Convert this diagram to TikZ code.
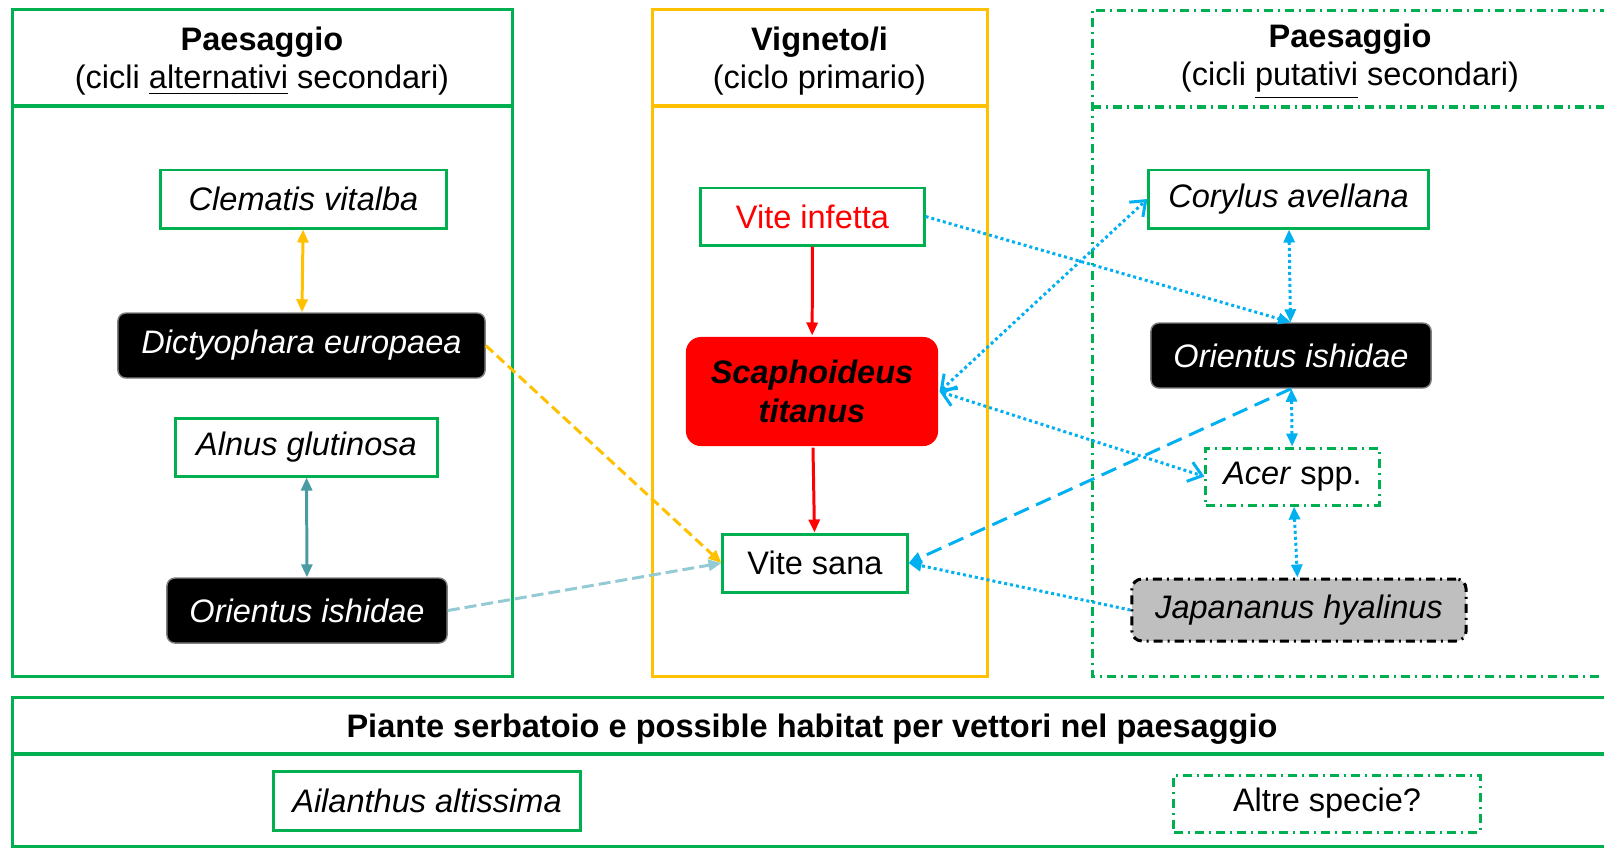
\documentclass[tikz,border=0pt]{standalone}
\usepackage{fontspec}
\setmainfont{Liberation Sans}
\usetikzlibrary{arrows.meta}
\definecolor{verde}{HTML}{00B050}
\definecolor{giallo}{HTML}{FFC000}
\definecolor{rosso}{HTML}{FF0000}
\definecolor{azzurro}{HTML}{00B0F0}
\definecolor{ottanio}{HTML}{4A9BA3}
\definecolor{acqua}{HTML}{93CAD4}
\definecolor{grigio}{HTML}{BFBFBF}
\newcommand{\testo}{\fontsize{9.25}{11}\selectfont}
\tikzset{
  punta/.tip={Triangle[length=0.13cm,width=0.11cm]},
  barba/.tip={Straight Barb[length=0.13cm,width=0.2cm,line width=0.85pt]},
  titolo/.style={align=center, font=\fontsize{9.25}{10.8}\selectfont},
  pianta/.style={draw=verde, line width=0.85pt, fill=white, minimum height=0.58cm, inner sep=0pt, font=\testo\itshape},
  insetto/.style={draw=gray, line width=0.4pt, fill=black, text=white, rounded corners=0.08cm, minimum height=0.65cm, inner sep=0pt, font=\testo\itshape},
  trattopunto/.style={dash pattern=on 0.09cm off 0.05cm on 0.02cm off 0.05cm},
  puntini/.style={azzurro, line width=0.85pt, dash pattern=on 0.03cm off 0.03cm},
}
\begin{document}
\begin{tikzpicture}[x=0.01cm, y=-0.01cm, font=\testo, line width=0.85pt]
  \clip (0,0) rectangle (1604,847);
  %pannelli
  \draw[verde] (12.5,9.5) rectangle (512,676);
  \draw[verde, line width=1.1pt] (12.5,106) -- (512,106);
  \draw[giallo] (652,9.5) rectangle (987,676);
  \draw[giallo, line width=1.1pt] (652,106) -- (987,106);
  \draw[verde, trattopunto] (1630,10) -- (1092,10) -- (1092,676) -- (1630,676);
  \draw[verde, trattopunto, line width=1.1pt] (1092,107) -- (1630,107);
  \draw[verde] (12.5,697) rectangle (1630,846);
  \draw[verde, line width=1.1pt] (12.5,754) -- (1630,754);
  %titoli
  \node[titolo] (tsx) at (262,61) {\textbf{Paesaggio}\\(cicli \underline{alternativi} secondari)};
  \node[titolo] (tcentro) at (819.5,61) {\textbf{Vigneto/i}\\(ciclo primario)};
  \node[titolo] (tdx) at (1350,62) {\textbf{Paesaggio}\\(cicli \underline{putativi} secondari)};
  \node[titolo] (tbasso) at (812,729) {\textbf{Piante serbatoio e possible habitat per vettori nel paesaggio}};
  %nodi a sinistra
  \node[pianta, minimum width=2.85cm] (clem) at (303.5,199) {Clematis vitalba};
  \node[insetto, minimum width=3.67cm] (dict) at (301.5,345.5) {Dictyophara europaea};
  \node[pianta, minimum width=2.61cm] (alnus) at (306.5,447) {Alnus glutinosa};
  \node[insetto, minimum width=2.80cm] (oris) at (307,610.5) {Orientus ishidae};
  %nodi al centro
  \node[pianta, minimum width=2.23cm, minimum height=0.57cm, text=rosso, font=\testo] (vinf) at (812.5,216.5) {Vite infetta};
  \node[fill=rosso, rounded corners=0.15cm, minimum width=2.52cm, minimum height=1.09cm, align=center, font=\testo\bfseries\itshape] (scaph) at (812,391.5) {Scaphoideus\\titanus};
  \node[pianta, minimum width=1.84cm, font=\testo] (vsana) at (815,563) {Vite sana};
  %nodi a destra
  \node[pianta, minimum width=2.79cm] (cory) at (1288.5,199) {Corylus avellana};
  \node[insetto, minimum width=2.80cm] (ordx) at (1291,355.5) {Orientus ishidae};
  \node[pianta, trattopunto, minimum width=1.73cm, minimum height=0.57cm, font=\testo] (acer) at (1292.5,476.5) {\textit{Acer} spp.};
  \node[draw=black, trattopunto, fill=grigio, rounded corners=0.1cm, minimum width=3.34cm, minimum height=0.62cm, inner sep=0pt, font=\testo\itshape] (japa) at (1299,610) {Japananus hyalinus};
  %nodi in basso
  \node[pianta, minimum width=3.06cm, minimum height=0.59cm] (ail) at (427,800.5) {Ailanthus altissima};
  \node[pianta, trattopunto, minimum width=3.06cm, minimum height=0.57cm, font=\testo] (altre) at (1327,803.5) {Altre specie?};
  %frecce
  \draw[giallo, punta-punta] (clem) -- (dict);
  \draw[ottanio, punta-punta] (alnus) -- (oris);
  \draw[giallo, -punta, dash pattern=on 0.1cm off 0.05cm] (dict.east) -- (vsana.west);
  \draw[acqua, -punta, dash pattern=on 0.12cm off 0.05cm] (oris.east) -- (vsana.west);
  \draw[rosso, -punta] (vinf) -- (scaph);
  \draw[rosso, -punta] (scaph) -- (vsana);
  \draw[puntini, -punta] (vinf.east) -- (ordx.north);
  \draw[puntini, barba-barba] (scaph.east) -- (cory.west);
  \draw[puntini, barba-barba] (scaph.east) -- (acer.west);
  \draw[puntini, punta-punta] (cory) -- (ordx);
  \draw[puntini, punta-punta] (ordx) -- (acer);
  \draw[puntini, punta-punta] (acer) -- (japa);
  \draw[azzurro, -punta, dash pattern=on 0.16cm off 0.08cm] (ordx.south) -- (vsana.east);
  \draw[puntini, -punta] (japa.west) -- (vsana.east);
\end{tikzpicture}
\end{document}
